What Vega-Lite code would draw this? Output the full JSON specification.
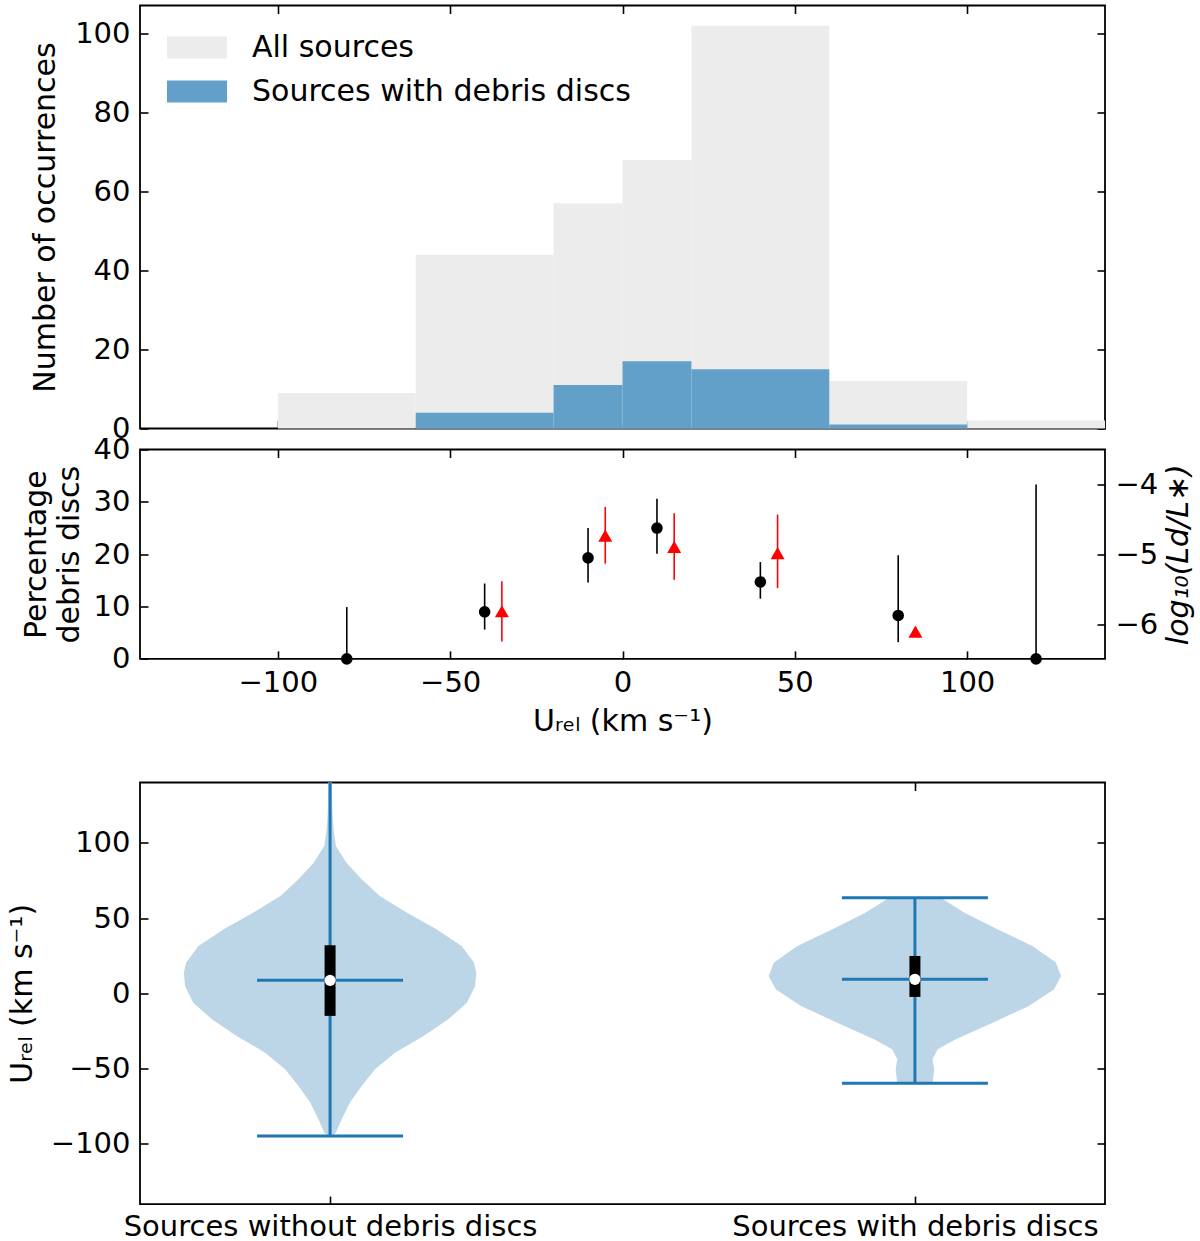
{
  "$schema": "https://vega.github.io/schema/vega-lite/v6.json",
  "padding": {"left": 6, "top": 3.5, "right": 5, "bottom": 2},
  "config": {
    "font": "DejaVu Sans",
    "view": {"stroke": "#000", "strokeWidth": 1.8},
    "axis": {
      "domain": false, "grid": false,
      "tickColor": "#000", "tickWidth": 1.6, "tickSize": -8,
      "labelFont": "DejaVu Sans", "labelFontSize": 29, "labelColor": "#000",
      "labelPadding": 18, "labelFlush": false, "labelOverlap": false, "labelLimit": 0,
      "titleFont": "DejaVu Sans", "titleFontSize": 30, "titleFontWeight": "normal", "titleColor": "#000"
    }
  },
  "datasets": {
    "hist": [
      {"series": "All sources", "lo": -100, "hi": -60, "count": 9},
      {"series": "All sources", "lo": -60, "hi": -20, "count": 44},
      {"series": "All sources", "lo": -20, "hi": 0, "count": 57},
      {"series": "All sources", "lo": 0, "hi": 20, "count": 68},
      {"series": "All sources", "lo": 20, "hi": 60, "count": 102},
      {"series": "All sources", "lo": 60, "hi": 100, "count": 12},
      {"series": "All sources", "lo": 100, "hi": 140, "count": 2},
      {"series": "Sources with debris discs", "lo": -60, "hi": -20, "count": 4},
      {"series": "Sources with debris discs", "lo": -20, "hi": 0, "count": 11},
      {"series": "Sources with debris discs", "lo": 0, "hi": 20, "count": 17},
      {"series": "Sources with debris discs", "lo": 20, "hi": 60, "count": 15},
      {"series": "Sources with debris discs", "lo": 60, "hi": 100, "count": 1}
    ],
    "black": [
      {"u": -80, "pct": 0, "lo": 0, "hi": 9.9},
      {"u": -40, "pct": 9.0, "lo": 5.6, "hi": 14.4},
      {"u": -10, "pct": 19.3, "lo": 14.6, "hi": 25.0},
      {"u": 10, "pct": 25.0, "lo": 20.1, "hi": 30.6},
      {"u": 40, "pct": 14.7, "lo": 11.5, "hi": 18.5},
      {"u": 80, "pct": 8.3, "lo": 3.2, "hi": 19.8},
      {"u": 120, "pct": 0, "lo": 0, "hi": 33.3}
    ],
    "red": [
      {"u": -35, "ld": -5.81, "lo": -6.24, "hi": -5.38},
      {"u": -5, "ld": -4.73, "lo": -5.13, "hi": -4.32},
      {"u": 15, "ld": -4.89, "lo": -5.36, "hi": -4.41},
      {"u": 45, "ld": -4.98, "lo": -5.48, "hi": -4.43},
      {"u": 85, "ld": -6.10}
    ],
    "violin": [
      {"grp": "without", "u": -94.7, "lo": 0.996, "hi": 1.004},
      {"grp": "without", "u": -92.5, "lo": 0.990, "hi": 1.010},
      {"grp": "without", "u": -83.6, "lo": 0.980, "hi": 1.020},
      {"grp": "without", "u": -72.5, "lo": 0.966, "hi": 1.034},
      {"grp": "without", "u": -61.5, "lo": 0.946, "hi": 1.054},
      {"grp": "without", "u": -50.4, "lo": 0.923, "hi": 1.077},
      {"grp": "without", "u": -39.4, "lo": 0.889, "hi": 1.111},
      {"grp": "without", "u": -28.3, "lo": 0.840, "hi": 1.160},
      {"grp": "without", "u": -17.3, "lo": 0.798, "hi": 1.202},
      {"grp": "without", "u": -6.2, "lo": 0.766, "hi": 1.234},
      {"grp": "without", "u": 4.9, "lo": 0.752, "hi": 1.248},
      {"grp": "without", "u": 13.7, "lo": 0.750, "hi": 1.250},
      {"grp": "without", "u": 20.4, "lo": 0.754, "hi": 1.246},
      {"grp": "without", "u": 31.4, "lo": 0.775, "hi": 1.225},
      {"grp": "without", "u": 42.5, "lo": 0.818, "hi": 1.182},
      {"grp": "without", "u": 53.6, "lo": 0.869, "hi": 1.131},
      {"grp": "without", "u": 64.6, "lo": 0.915, "hi": 1.085},
      {"grp": "without", "u": 75.7, "lo": 0.946, "hi": 1.054},
      {"grp": "without", "u": 86.7, "lo": 0.972, "hi": 1.028},
      {"grp": "without", "u": 97.8, "lo": 0.990, "hi": 1.010},
      {"grp": "without", "u": 108.8, "lo": 0.994, "hi": 1.006},
      {"grp": "without", "u": 120, "lo": 0.996, "hi": 1.004},
      {"grp": "without", "u": 145, "lo": 0.997, "hi": 1.003},
      {"grp": "with", "u": -59.7, "lo": 1.970, "hi": 2.030},
      {"grp": "with", "u": -57.1, "lo": 1.969, "hi": 2.031},
      {"grp": "with", "u": -50.4, "lo": 1.967, "hi": 2.033},
      {"grp": "with", "u": -43.8, "lo": 1.970, "hi": 2.030},
      {"grp": "with", "u": -37.2, "lo": 1.961, "hi": 2.039},
      {"grp": "with", "u": -30.5, "lo": 1.930, "hi": 2.070},
      {"grp": "with", "u": -19.5, "lo": 1.867, "hi": 2.133},
      {"grp": "with", "u": -8.4, "lo": 1.805, "hi": 2.195},
      {"grp": "with", "u": 2.7, "lo": 1.762, "hi": 2.238},
      {"grp": "with", "u": 11.5, "lo": 1.750, "hi": 2.250},
      {"grp": "with", "u": 20.4, "lo": 1.759, "hi": 2.241},
      {"grp": "with", "u": 31.4, "lo": 1.799, "hi": 2.201},
      {"grp": "with", "u": 42.5, "lo": 1.859, "hi": 2.141},
      {"grp": "with", "u": 53.6, "lo": 1.916, "hi": 2.084},
      {"grp": "with", "u": 63.5, "lo": 1.956, "hi": 2.044}
    ],
    "stats": [
      {"grp": "without", "pos": 1, "min": -94.7, "max": 150, "q1": -15.0, "q3": 31.9, "med": 8.6},
      {"grp": "with", "pos": 2, "min": -59.7, "max": 63.5, "q1": -2.4, "q3": 24.8, "med": 9.3}
    ],
    "lines": [
      {"pos": 1, "u": -94.7},
      {"pos": 1, "u": 8.6},
      {"pos": 2, "u": -59.7},
      {"pos": 2, "u": 9.3},
      {"pos": 2, "u": 63.5}
    ]
  },
  "vconcat": [
    {
      "width": 965,
      "height": 423,
      "data": {"name": "hist"},
      "layer": [
        {
          "mark": {"type": "rect"},
          "encoding": {
            "x": {"field": "lo", "type": "quantitative", "scale": {"domain": [-140, 140], "nice": false, "zero": false},
                  "axis": {"orient": "bottom", "values": [-100, -50, 0, 50, 100], "labels": false, "title": null}},
            "x2": {"field": "hi"},
            "y": {"field": "count", "type": "quantitative", "scale": {"domain": [0, 107.1], "nice": false},
                  "axis": {"orient": "left", "values": [0, 20, 40, 60, 80, 100], "title": "Number of occurrences", "titlePadding": 14}},
            "y2": {"datum": 0},
            "color": {
              "field": "series", "type": "nominal",
              "scale": {"domain": ["All sources", "Sources with debris discs"], "range": ["#ececec", "#62a0ca"]},
              "legend": {
                "title": null, "orient": "none", "legendX": 37, "legendY": 22, "padding": 0,
                "symbolType": "M-1.5,-0.55H1.5V0.55H-1.5Z", "symbolSize": 1600, "symbolStrokeWidth": 0, "symbolOpacity": 1,
                "labelFont": "DejaVu Sans", "labelFontSize": 30, "labelColor": "#000", "labelOffset": 35, "labelLimit": 0, "rowPadding": 9
              }
            }
          }
        },
        {
          "mark": {"type": "rect", "opacity": 0},
          "encoding": {
            "x": {"field": "lo", "type": "quantitative", "scale": {"domain": [-140, 140], "nice": false, "zero": false},
                  "axis": {"orient": "top", "values": [-100, -50, 0, 50, 100], "labels": false, "title": null}},
            "x2": {"field": "hi"},
            "y": {"field": "count", "type": "quantitative", "scale": {"domain": [0, 107.1], "nice": false},
                  "axis": {"orient": "right", "values": [0, 20, 40, 60, 80, 100], "labels": false, "title": null}},
            "y2": {"datum": 0}
          }
        }
      ],
      "resolve": {"axis": {"x": "independent", "y": "independent"}}
    },
    {
      "width": 965,
      "height": 209.4,
      "layer": [
        {
          "data": {"name": "black"},
          "layer": [
            {
              "mark": {"type": "rule", "color": "#000", "strokeWidth": 1.6},
              "encoding": {
                "x": {"field": "u", "type": "quantitative", "scale": {"domain": [-140, 140], "nice": false, "zero": false},
                      "axis": {"orient": "bottom", "values": [-100, -50, 0, 50, 100], "title": "Uᵣₑₗ (km s⁻¹)", "titlePadding": 9}},
                "y": {"field": "lo", "type": "quantitative", "scale": {"domain": [0, 40], "nice": false},
                      "axis": {"orient": "left", "values": [0, 10, 20, 30, 40], "title": ["Percentage", "debris discs"], "titleLineHeight": 33, "titlePadding": 9}},
                "y2": {"field": "hi"}
              }
            },
            {
              "mark": {"type": "point", "shape": "circle", "filled": true, "color": "#000", "size": 135, "opacity": 1},
              "encoding": {
                "x": {"field": "u", "type": "quantitative"},
                "y": {"field": "pct", "type": "quantitative", "title": ["Percentage", "debris discs"]}
              }
            }
          ]
        },
        {
          "data": {"name": "red"},
          "layer": [
            {
              "transform": [{"filter": "isValid(datum.lo)"}],
              "mark": {"type": "rule", "color": "#ff0000", "strokeWidth": 1.6},
              "encoding": {
                "x": {"field": "u", "type": "quantitative", "scale": {"domain": [-140, 140], "nice": false, "zero": false},
                      "axis": {"orient": "top", "values": [-100, -50, 0, 50, 100], "labels": false, "title": null}},
                "y": {"field": "lo", "type": "quantitative", "scale": {"domain": [-6.49, -3.5], "nice": false, "zero": false},
                      "axis": {"orient": "right", "values": [-6, -5, -4], "format": "d", "title": "log₁₀(Ld/L∗)", "titleFontStyle": "italic", "titleAngle": 270, "titleBaseline": "top", "titlePadding": 6}},
                "y2": {"field": "hi"}
              }
            },
            {
              "mark": {"type": "point", "shape": "triangle-up", "filled": true, "color": "#ff0000", "size": 196, "opacity": 1},
              "encoding": {
                "x": {"field": "u", "type": "quantitative"},
                "y": {"field": "ld", "type": "quantitative", "title": "log₁₀(Ld/L∗)"}
              }
            }
          ]
        }
      ],
      "resolve": {"scale": {"y": "independent"}, "axis": {"x": "independent", "y": "independent"}}
    },
    {
      "width": 965,
      "height": 421.6,
      "title": {"text": " ", "fontSize": 20, "offset": 32},
      "layer": [
        {
          "data": {"name": "violin"},
          "mark": {"type": "area", "orient": "horizontal", "color": "#bcd6e8", "opacity": 1, "clip": true},
          "encoding": {
            "y": {"field": "u", "type": "quantitative", "scale": {"domain": [-140, 140], "nice": false, "zero": false},
                  "axis": {"orient": "left", "values": [-100, -50, 0, 50, 100], "title": "Uᵣₑₗ (km s⁻¹)", "titlePadding": 13}},
            "x": {"field": "lo", "type": "quantitative", "scale": {"domain": [0.675, 2.325], "nice": false, "zero": false},
                  "axis": {"orient": "bottom", "values": [1, 2], "title": null, "labelPadding": 16,
                           "labelExpr": "datum.value == 1 ? 'Sources without debris discs' : 'Sources with debris discs'"}},
            "x2": {"field": "hi"},
            "detail": {"field": "grp"}
          }
        },
        {
          "data": {"name": "stats"},
          "mark": {"type": "rule", "color": "#1f77b4", "strokeWidth": 3, "clip": true},
          "encoding": {
            "x": {"field": "pos", "type": "quantitative", "axis": null},
            "y": {"field": "min", "type": "quantitative", "axis": null},
            "y2": {"field": "max"}
          }
        },
        {
          "data": {"name": "lines"},
          "mark": {"type": "tick", "orient": "horizontal", "color": "#1f77b4", "thickness": 3, "size": 146, "opacity": 1},
          "encoding": {
            "x": {"field": "pos", "type": "quantitative", "axis": null},
            "y": {"field": "u", "type": "quantitative", "axis": null}
          }
        },
        {
          "data": {"name": "stats"},
          "mark": {"type": "rule", "color": "#000", "strokeWidth": 11, "strokeCap": "butt"},
          "encoding": {
            "x": {"field": "pos", "type": "quantitative", "axis": null},
            "y": {"field": "q1", "type": "quantitative", "axis": null},
            "y2": {"field": "q3"}
          }
        },
        {
          "data": {"name": "stats"},
          "mark": {"type": "point", "shape": "circle", "filled": true, "color": "#ffffff", "size": 125, "opacity": 1},
          "encoding": {
            "x": {"field": "pos", "type": "quantitative", "axis": null},
            "y": {"field": "med", "type": "quantitative", "axis": null}
          }
        },
        {
          "data": {"name": "stats"},
          "mark": {"type": "point", "opacity": 0},
          "encoding": {
            "x": {"field": "pos", "type": "quantitative", "axis": {"orient": "top", "values": [1, 2], "labels": false, "title": null}},
            "y": {"field": "med", "type": "quantitative", "axis": {"orient": "right", "values": [-100, -50, 0, 50, 100], "labels": false, "title": null}}
          }
        }
      ],
      "resolve": {"axis": {"x": "independent", "y": "independent"}}
    }
  ],
  "spacing": -10
}
